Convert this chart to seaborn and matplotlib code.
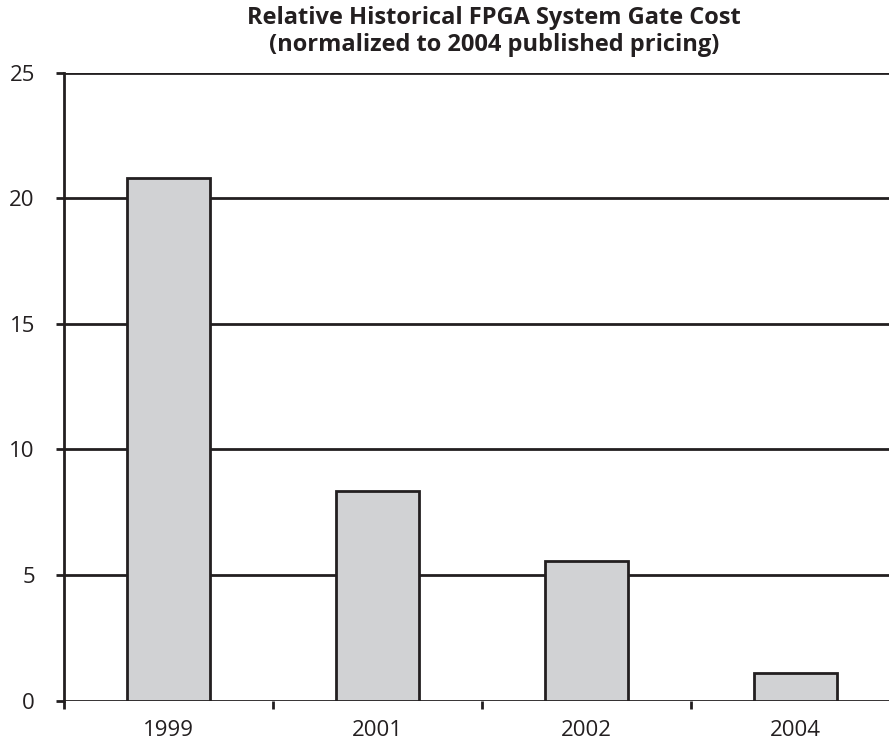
import matplotlib
matplotlib.use("Agg")
import matplotlib.pyplot as plt
import seaborn as sns
import pandas as pd

years = ["1999", "2001", "2002", "2004"]
relative_cost = [20.82, 8.36, 5.57, 1.09]
y_ticks = [0, 5, 10, 15, 20, 25]
title_lines = ["Relative Historical FPGA System Gate Cost",
               "(normalized to 2004 published pricing)"]

ink = "#231f20"
bar_fill = "#d1d2d4"

sns.set_theme(style="white")
plt.rcParams["font.family"] = ["Open Sans", "DejaVu Sans"]

df = pd.DataFrame({"year": years, "cost": relative_cost})

fig = plt.figure(figsize=(8.89, 7.42), dpi=100)
ax = fig.add_axes([0.072, 0.0557, 0.9404, 0.8464])

sns.barplot(data=df, x="year", y="cost", order=years, width=0.4,
            color=bar_fill, saturation=1, edgecolor=ink, linewidth=2.0,
            ax=ax, zorder=3)

ax.set_xlim(-0.5, len(years) - 0.5)
ax.set_ylim(0, 25)

# horizontal grid lines drawn behind the bars
for v in y_ticks:
    ax.axhline(v, color=ink, lw=2.0, zorder=1)

for s in ["top", "right", "bottom"]:
    ax.spines[s].set_visible(False)
ax.spines["left"].set_color(ink)
ax.spines["left"].set_linewidth(2.0)

ax.set_yticks(y_ticks)
ax.set_yticklabels([str(v) for v in y_ticks], fontsize=16, color=ink)
ax.tick_params(axis="y", which="major", direction="out", length=6,
               width=2.0, color=ink, pad=15, left=True)

# category boundaries carry the tick marks, labels sit at bar centres
ax.set_xticks([i - 0.5 for i in range(len(years))])
ax.set_xticklabels([])
ax.set_xticks(range(len(years)), minor=True)
ax.set_xticklabels(years, minor=True, fontsize=16, color=ink)
ax.tick_params(axis="x", which="major", direction="out", length=6,
               width=2.0, color=ink, bottom=True)
ax.tick_params(axis="x", which="minor", length=0, pad=14, bottom=True)

ax.set_xlabel("")
ax.set_ylabel("")

fig.text(0.556, 0.976, title_lines[0], ha="center", va="center",
         fontsize=17, fontweight="bold", color=ink)
fig.text(0.556, 0.939, title_lines[1], ha="center", va="center",
         fontsize=17, fontweight="bold", color=ink)

fig.savefig("out.png", dpi=100)
